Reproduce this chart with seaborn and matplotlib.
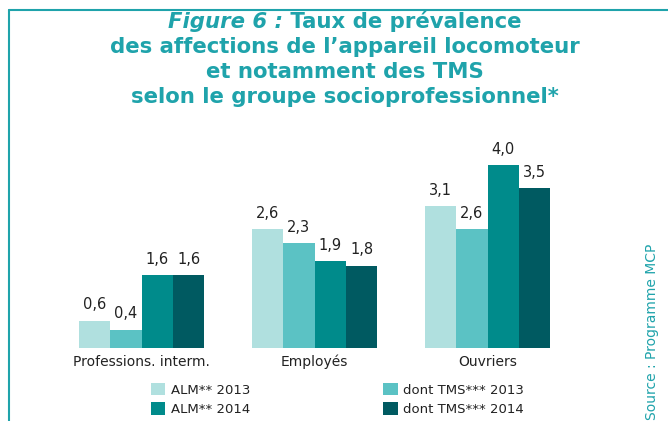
import matplotlib
matplotlib.use("Agg")
import matplotlib.pyplot as plt
import seaborn as sns
import pandas as pd
from matplotlib.patches import Patch
from matplotlib.lines import Line2D

categories = ["Professions. interm.", "Employés", "Ouvriers"]
series = ["ALM** 2013", "dont TMS*** 2013", "ALM** 2014", "dont TMS*** 2014"]
alm_2013 = [0.6, 2.6, 3.1]
tms_2013 = [0.4, 2.3, 2.6]
alm_2014 = [1.6, 1.9, 4.0]
tms_2014 = [1.6, 1.8, 3.5]
colors = ["#b0e0df", "#5bc2c4", "#008b8b", "#005a61"]

rows = []
for s, vals in zip(series, [alm_2013, tms_2013, alm_2014, tms_2014]):
    for c, v in zip(categories, vals):
        rows.append({"cat": c, "series": s, "val": v})
df = pd.DataFrame(rows)

sns.set_style("white")
plt.rcParams["font.family"] = ["DejaVu Sans"]

W, H = 668, 421
fig = plt.figure(figsize=(W / 100, H / 100), dpi=100)
ax = fig.add_axes([55 / W, (421 - 348) / H, 519 / W, 192 / H])

sns.barplot(data=df, x="cat", y="val", hue="series", hue_order=series,
            order=categories, palette=colors, width=0.725, dodge=True,
            saturation=1, errorbar=None, ax=ax, legend=False, linewidth=0)

for cont in ax.containers:
    ax.bar_label(cont, labels=[f"{b.get_height():.1f}".replace(".", ",") for b in cont],
                 padding=6, fontsize=10.5, color="#222222")

ax.set_xlim(-0.5, 2.5)
ax.set_ylim(0, 4.2)
ax.set_xlabel("")
ax.set_ylabel("")
ax.set_yticks([])
ax.tick_params(axis="x", length=0, labelsize=10, pad=5, colors="#222222")
for sp in ax.spines.values():
    sp.set_visible(False)

teal = "#1fa3ab"
fs_title = 15.3
title_lines = [
    None,
    "des affections de l\u2019appareil locomoteur",
    "et notamment des TMS",
    "selon le groupe socioprofessionnel*",
]
t1 = fig.text(0, 0, "Figure 6 :", fontsize=fs_title, fontweight="bold", style="italic", color=teal)
t2 = fig.text(0, 0, " Taux de prévalence", fontsize=fs_title, fontweight="bold", color=teal)
fig.canvas.draw()
r = fig.canvas.get_renderer()
w1 = t1.get_window_extent(r).width
w2 = t2.get_window_extent(r).width
cx = 345
x0 = cx - (w1 + w2) / 2
t1.set_position((x0 / W, 1 - 28 / H))
t2.set_position(((x0 + w1) / W, 1 - 28 / H))
for i, line in enumerate(title_lines[1:], start=1):
    fig.text(cx / W, 1 - (28 + 25 * i) / H, line, fontsize=fs_title, fontweight="bold",
             color=teal, ha="center", va="baseline")

fig.add_artist(Line2D([9 / W, 9 / W], [0, 1 - 10 / H], color=teal, lw=1.5))
fig.add_artist(Line2D([9 / W, 1], [1 - 10 / H, 1 - 10 / H], color=teal, lw=1.5))

fig.text(652 / W, 1 / H, "Source : Programme MCP", rotation=90,
         fontsize=10, color=teal, ha="center", va="bottom")

handles = [Patch(facecolor=colors[i], edgecolor="none") for i in [0, 2, 1, 3]]
labels = [series[i] for i in [0, 2, 1, 3]]
fig.legend(handles, labels, ncol=2, loc="center left", bbox_to_anchor=(139 / W, 1 - 399.5 / H),
           frameon=False, fontsize=9.5, handlelength=1.1, handleheight=1.1,
           handletextpad=0.4, columnspacing=10.1, labelspacing=0.45, labelcolor="#222222")

fig.savefig("out.png", dpi=100)
